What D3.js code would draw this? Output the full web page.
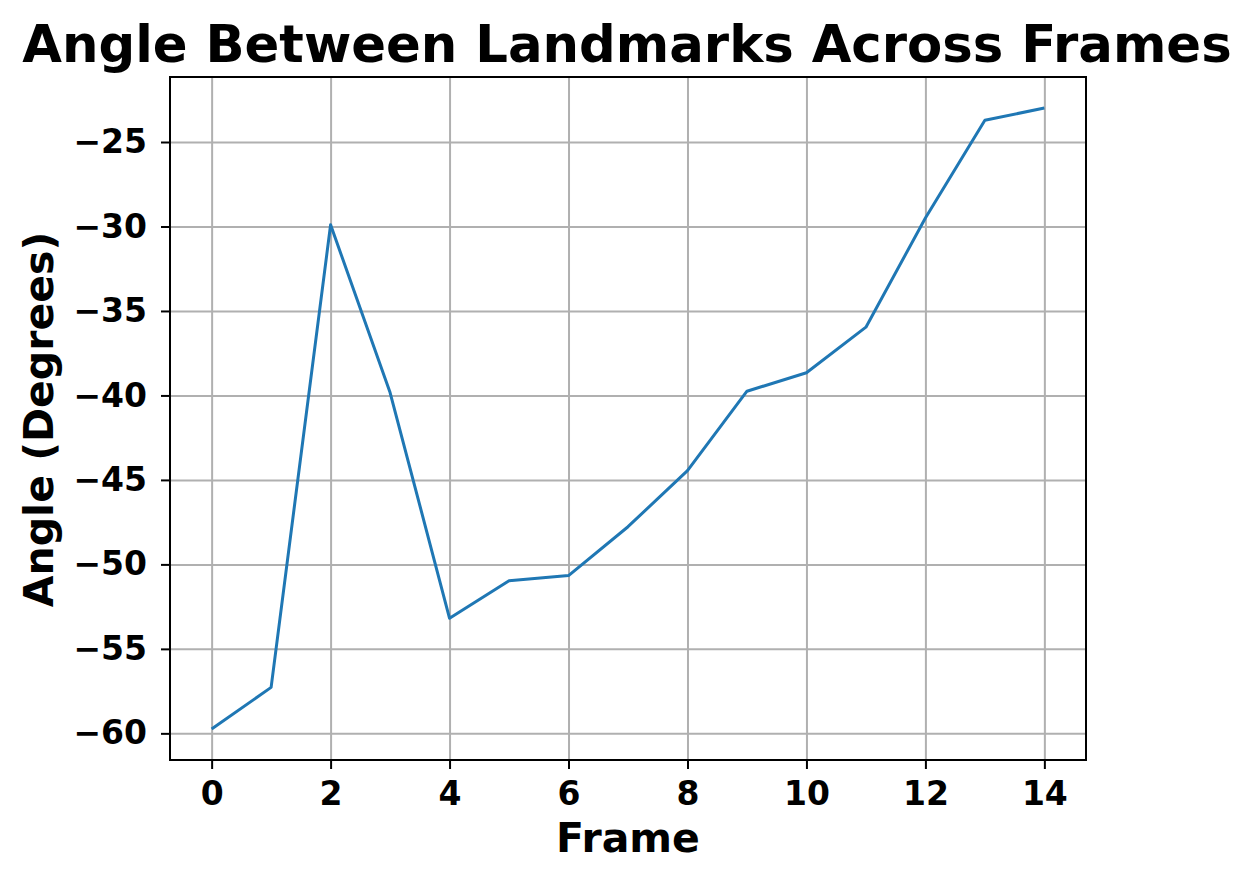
<!DOCTYPE html>
<html>
<head>
<meta charset="utf-8">
<script src="https://cdn.jsdelivr.net/npm/d3@7"></script>
<style>
  body { margin: 0; background: #fff; }
  text { font-family: "DejaVu Sans", sans-serif; font-weight: bold; fill: #000; }
  .grid line { stroke: #b0b0b0; stroke-width: 2; }
  .grid path { display: none; }
</style>
</head>
<body>
<div id="container"></div>
<script>
    const frames = [0, 1, 2, 3, 4, 5, 6, 7, 8, 9, 10, 11, 12, 13, 14];
    const angles = [-59.74, -57.28, -29.9, -39.83, -53.19, -50.97, -50.66, -47.77, -44.45,
      -39.75, -38.66, -35.96, -29.5, -23.71, -22.99];
    const xTicks = [0, 2, 4, 6, 8, 10, 12, 14];
    const yTicks = [-60, -55, -50, -45, -40, -35, -30, -25];

    const W = 1251, H = 872;
    const mLeft = 170, mRight = 1086, mTop = 77, mBottom = 760;

    const svg = d3.select('#container').append('svg')
      .attr('width', W)
      .attr('height', H);

    // matplotlib style 5% margins
    const xPad = (d3.max(frames) - d3.min(frames)) * 0.05;
    const yPad = (d3.max(angles) - d3.min(angles)) * 0.05;

    const x = d3.scaleLinear()
      .domain([d3.min(frames) - xPad, d3.max(frames) + xPad])
      .range([mLeft, mRight]);

    const y = d3.scaleLinear()
      .domain([d3.min(angles) - yPad, d3.max(angles) + yPad])
      .range([mBottom, mTop]);

    // grid
    svg.append('g')
      .attr('class', 'grid')
      .attr('transform', `translate(0,${mBottom})`)
      .call(d3.axisBottom(x).tickValues(xTicks).tickSize(-(mBottom - mTop)).tickFormat(''));

    svg.append('g')
      .attr('class', 'grid')
      .attr('transform', `translate(${mLeft},0)`)
      .call(d3.axisLeft(y).tickValues(yTicks).tickSize(-(mRight - mLeft)).tickFormat(''));

    // line
    const line = d3.line()
      .x((d, i) => x(frames[i]))
      .y((d) => y(d));

    svg.append('path')
      .datum(angles)
      .attr('fill', 'none')
      .attr('stroke', '#1f77b4')
      .attr('stroke-width', 3)
      .attr('stroke-linejoin', 'round')
      .attr('d', line);

    // spines
    svg.append('rect')
      .attr('x', mLeft)
      .attr('y', mTop)
      .attr('width', mRight - mLeft)
      .attr('height', mBottom - mTop)
      .attr('fill', 'none')
      .attr('stroke', '#000')
      .attr('stroke-width', 2);

    // axes
    const xAxis = svg.append('g')
      .attr('transform', `translate(0,${mBottom})`)
      .call(d3.axisBottom(x).tickValues(xTicks).tickSize(9).tickPadding(13).tickFormat(d3.format('d')));
    xAxis.select('.domain').remove();
    xAxis.selectAll('line').attr('stroke', '#000').attr('stroke-width', 2);
    xAxis.selectAll('text').style('font-size', '33px').attr('fill', '#000');

    const yAxis = svg.append('g')
      .attr('transform', `translate(${mLeft},0)`)
      .call(d3.axisLeft(y).tickValues(yTicks).tickSize(9).tickPadding(14)
        .tickFormat((d) => '\u2212' + Math.abs(d)));
    yAxis.select('.domain').remove();
    yAxis.selectAll('line').attr('stroke', '#000').attr('stroke-width', 2);
    yAxis.selectAll('text').style('font-size', '33px').attr('fill', '#000');

    // labels
    svg.append('text')
      .attr('x', (mLeft + mRight) / 2)
      .attr('y', 852)
      .attr('text-anchor', 'middle')
      .style('font-size', '41px')
      .text('Frame');

    svg.append('text')
      .attr('transform', `translate(53,${(mTop + mBottom) / 2 + 1}) rotate(-90)`)
      .attr('text-anchor', 'middle')
      .style('font-size', '41px')
      .text('Angle (Degrees)');

    svg.append('text')
      .attr('x', 627)
      .attr('y', 62)
      .attr('text-anchor', 'middle')
      .style('font-size', '51.3px')
      .text('Angle Between Landmarks Across Frames');
</script>
</body>
</html>
